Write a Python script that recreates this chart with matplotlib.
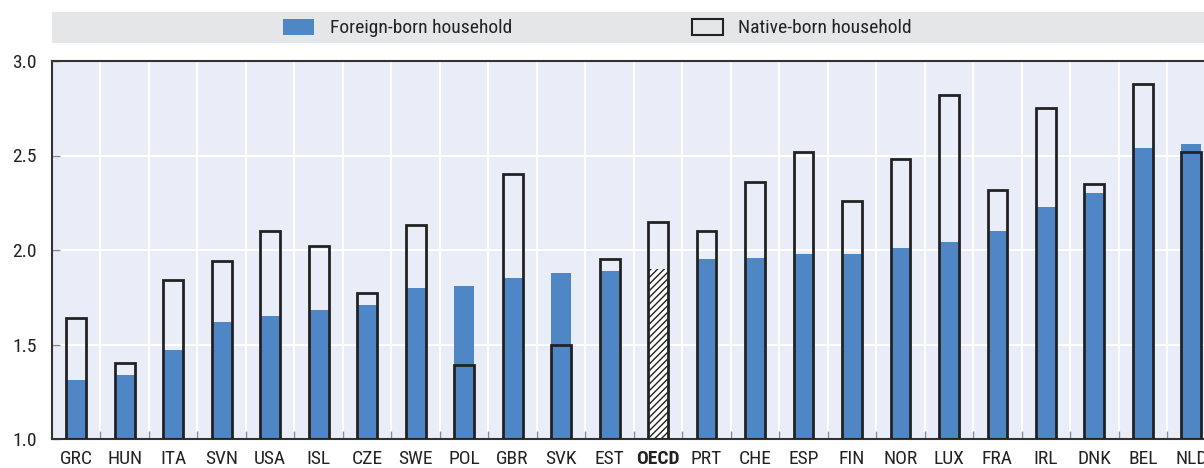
import matplotlib
matplotlib.use("Agg")
import matplotlib.pyplot as plt
from matplotlib import font_manager
from matplotlib.patches import Rectangle
import numpy as np

# Country codes, in chart order
countries = ["GRC", "HUN", "ITA", "SVN", "USA", "ISL", "CZE", "SWE", "POL", "GBR",
             "SVK", "EST", "OECD", "PRT", "CHE", "ESP", "FIN", "NOR", "LUX", "FRA",
             "IRL", "DNK", "BEL", "NLD"]

# Average household size
foreign_born = [1.31, 1.34, 1.47, 1.62, 1.65, 1.68, 1.71, 1.80, 1.81, 1.85,
                1.88, 1.89, 1.90, 1.95, 1.96, 1.98, 1.98, 2.01, 2.04, 2.10,
                2.23, 2.30, 2.54, 2.56]
native_born = [1.64, 1.40, 1.84, 1.94, 2.10, 2.02, 1.77, 2.13, 1.39, 2.40,
               1.50, 1.95, 2.15, 2.10, 2.36, 2.52, 2.26, 2.48, 2.82, 2.32,
               2.75, 2.35, 2.88, 2.52]

y_ticks = [1.0, 1.5, 2.0, 2.5, 3.0]
legend_labels = ["Foreign-born household", "Native-born household"]

available = {f.name for f in font_manager.fontManager.ttflist}
family = [f for f in ["Liberation Sans Narrow", "Roboto Condensed", "Roboto", "DejaVu Sans"]
          if f in available]
plt.rcParams["font.family"] = family
plt.rcParams["hatch.linewidth"] = 1.0

BLUE = "#4f87c6"
EDGE = "#222222"
BG = "#e9edf7"
TEXT = "#222222"
FS = 14

fig = plt.figure(figsize=(12.04, 4.68), dpi=100)
ax = fig.add_axes([52 / 1204, 1 - 439 / 468, 1 - 52 / 1204, (439 - 61) / 468])
ax.set_facecolor(BG)

x = np.arange(len(countries))
width = 0.41
oecd = countries.index("OECD")

bars = ax.bar(x, [v - 1.0 for v in foreign_born], width, bottom=1.0,
              color=BLUE, edgecolor="none", zorder=2)
bars[oecd].set_facecolor("white")
bars[oecd].set_hatch("/////")
bars[oecd].set_edgecolor(EDGE)
bars[oecd].set_linewidth(0)

ax.bar(x, [v - 1.0 for v in native_born], width, bottom=1.0,
       facecolor="none", edgecolor=EDGE, linewidth=2.0, zorder=3)

ax.set_xlim(-0.5, 23.26)
ax.set_ylim(1.0, 3.0)
ax.set_yticks(y_ticks)
ax.set_yticklabels([f"{v:.1f}" for v in y_ticks], fontsize=FS)
ax.set_xticks(x)
ax.set_xticklabels(countries, fontsize=FS)
for lbl in ax.get_xticklabels():
    if lbl.get_text() == "OECD":
        lbl.set_fontweight("bold")
ax.tick_params(axis="x", length=0, pad=8, colors=TEXT)
ax.tick_params(axis="y", direction="in", length=6, width=1, color="#888888",
               pad=11, labelcolor=TEXT)

# Category separators: white vertical gridlines and short bottom ticks
ax.set_xticks(x[:-1] + 0.5, minor=True)
ax.tick_params(axis="x", which="minor", direction="in", length=6, width=1,
               color="#888888")
ax.grid(axis="x", which="minor", color="white", linewidth=1.5, zorder=0)
ax.grid(axis="y", which="major", color="white", linewidth=1.5, zorder=0)
ax.set_axisbelow(True)

for side in ["left", "top", "bottom"]:
    ax.spines[side].set_color("#333333")
    ax.spines[side].set_linewidth(1.5)
ax.spines["right"].set_visible(False)

# Legend band across the top
band_y0 = 1 - 43 / 468
band_h = 31 / 468
fig.patches.append(Rectangle((52 / 1204, band_y0), 1 - 52 / 1204, band_h,
                             transform=fig.transFigure, facecolor="#e5e6e8",
                             edgecolor="none", zorder=0))
py = 1 - 35 / 468
ph = 16 / 468
fig.patches.append(Rectangle((283 / 1204, py), 31 / 1204, ph,
                             transform=fig.transFigure, facecolor=BLUE,
                             edgecolor="none", zorder=1))
fig.patches.append(Rectangle((692 / 1204, py), 31 / 1204, ph,
                             transform=fig.transFigure, facecolor="none",
                             edgecolor=EDGE, linewidth=1.5, zorder=1))
ty = 1 - 28 / 468
fig.text(330 / 1204, ty, legend_labels[0], fontsize=FS, va="center",
         ha="left", color=TEXT)
fig.text(738 / 1204, ty, legend_labels[1], fontsize=FS, va="center",
         ha="left", color=TEXT)

fig.savefig("out.png", dpi=100)
